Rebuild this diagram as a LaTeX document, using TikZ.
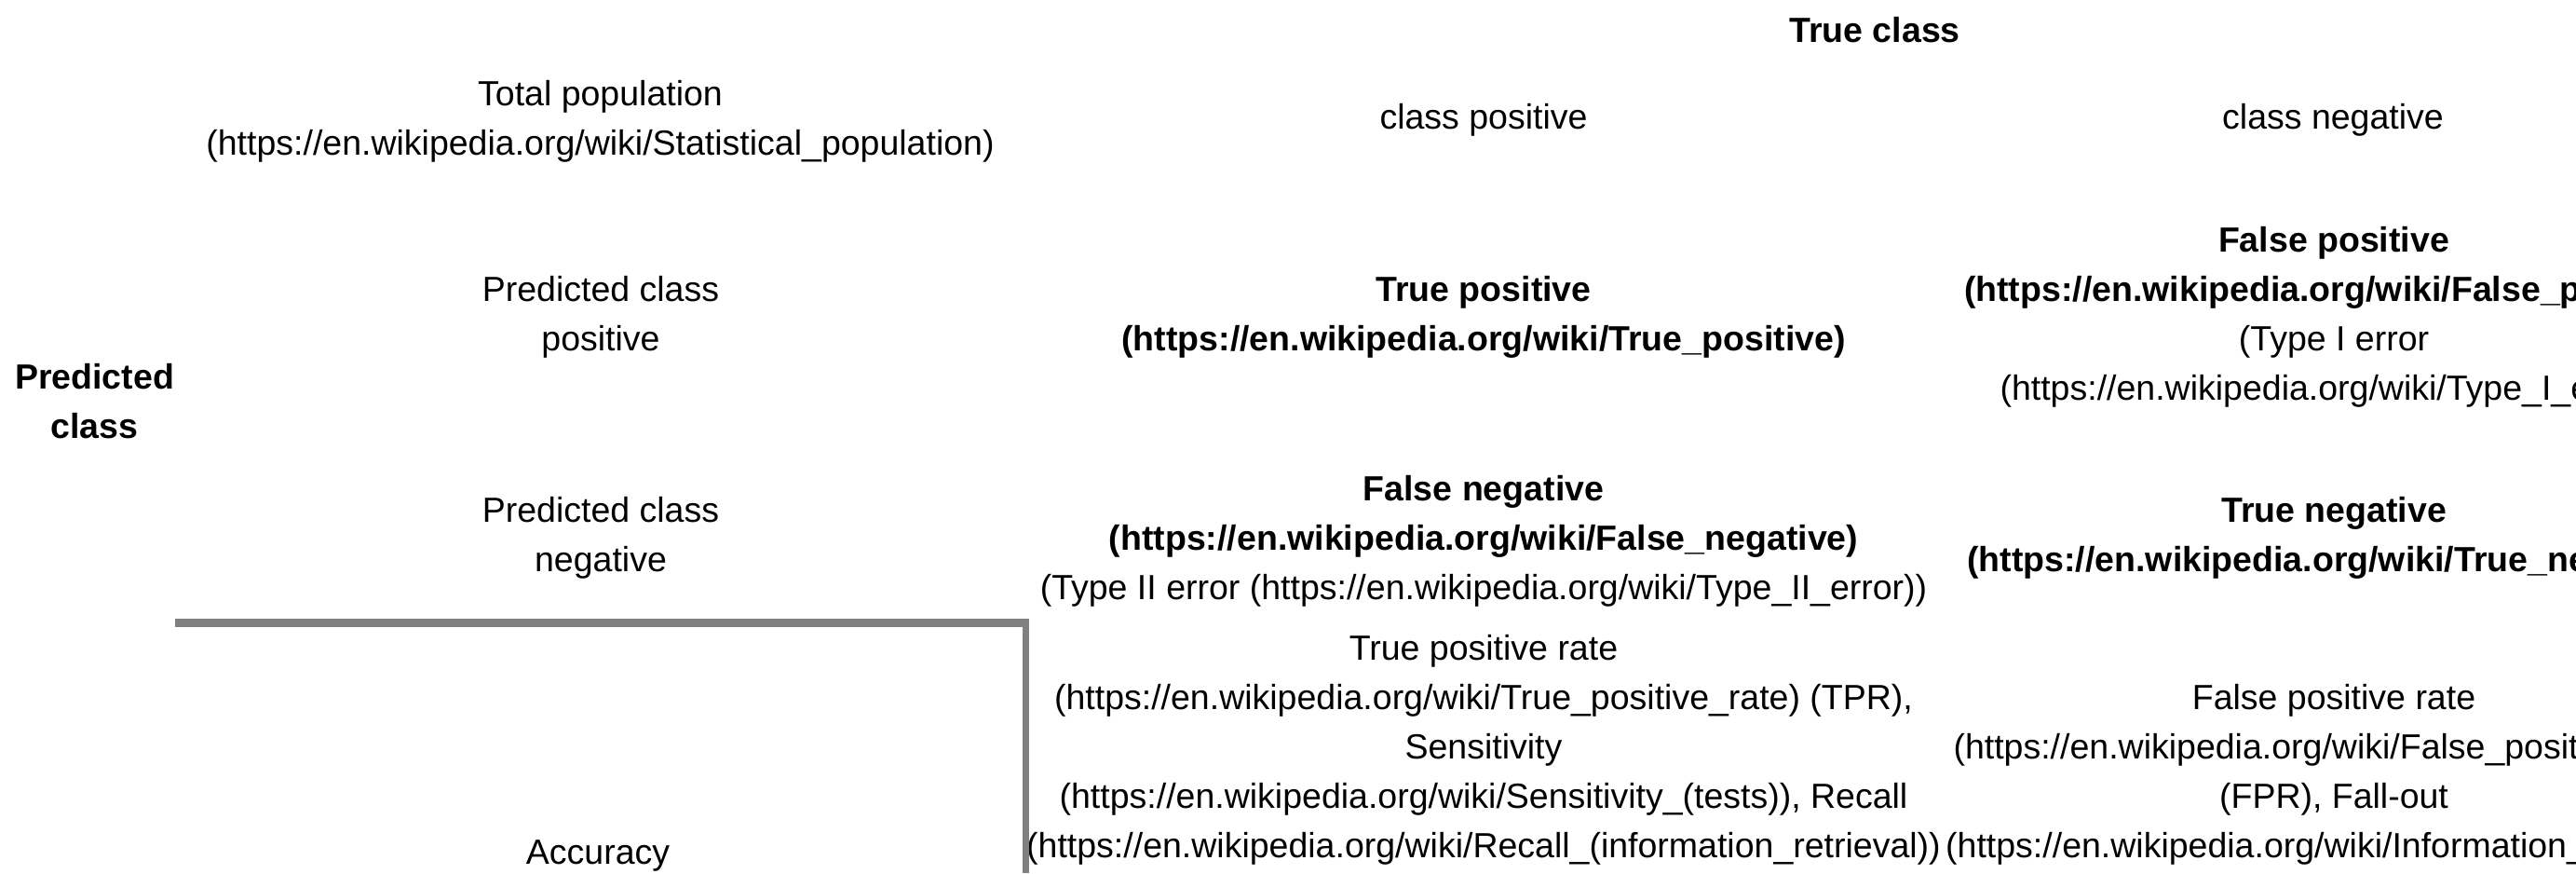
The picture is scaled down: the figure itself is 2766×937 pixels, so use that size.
\documentclass[tikz,border=0pt]{standalone}
\usepackage{fontspec}
\setmainfont{Liberation Sans}
\usetikzlibrary{positioning}
\tikzset{
    cell/.style = {
        inner sep=0pt,
        anchor=base,
        align=center,
        font=\fontsize{18.75}{26.5}\selectfont
    },
    head/.style = {
        cell,
        font=\fontsize{18.75}{26.5}\selectfont\bfseries
    },
    rule/.style = {
        fill=gray,
        draw=none
    },
}

\begin{document}
\begin{tikzpicture}[x=0.5pt,y=-0.5pt]
    \useasboundingbox (0,0) rectangle (2766,937);
    \clip (0,0) rectangle (2766,937);

    % header rows (base = last line)
    \node[head] (trueclass) at (2013,45) {True class};
    \node[cell] (total) at (644.5,166) {Total population\\(https://en.wikipedia.org/wiki/Statistical\_population)};
    \node[cell] (classpos) at (1593,138) {class positive};
    \node[cell] (classneg) at (2505,138) {class negative};

    % predicted positive
    \node[head] (predclass) at (101.5,470) {Predicted\\class};
    \node[cell] (predpos) at (645,376) {Predicted class\\positive};
    \node[head] (tp) at (1593,376) {True positive\\(https://en.wikipedia.org/wiki/True\_positive)};
    \node[cell] (fp) at (2506,429) {\textbf{False positive}\\\textbf{(https://en.wikipedia.org/wiki/False\_positive)}\\(Type I error\\(https://en.wikipedia.org/wiki/Type\_I\_error))};

    % predicted negative
    \node[cell] (predneg) at (645,613) {Predicted class\\negative};
    \node[cell] (fn) at (1593,643) {\textbf{False negative}\\\textbf{(https://en.wikipedia.org/wiki/False\_negative)}\\(Type II error (https://en.wikipedia.org/wiki/Type\_II\_error))};
    \node[head] (tn) at (2506,613) {True negative\\(https://en.wikipedia.org/wiki/True\_negative)};

    % rates
    \node[cell] (acc) at (642,927) {Accuracy};
    \node[cell] (tpr) at (1593,920) {True positive rate\\(https://en.wikipedia.org/wiki/True\_positive\_rate) (TPR),\\Sensitivity\\(https://en.wikipedia.org/wiki/Sensitivity\_(tests)), Recall\\(https://en.wikipedia.org/wiki/Recall\_(information\_retrieval))};
    \node[cell] (fpr) at (2506,920) {False positive rate\\(https://en.wikipedia.org/wiki/False\_positive\_rate)\\(FPR), Fall-out\\(https://en.wikipedia.org/wiki/Information\_retrieval)};

    % gray border of the accuracy cell
    \coordinate (corner) at (1105,664);
    \path[rule] (188,664) rectangle (corner |- 0,673);
    \path[rule] (1098,664) rectangle (corner |- 0,937);
\end{tikzpicture}
\end{document}
